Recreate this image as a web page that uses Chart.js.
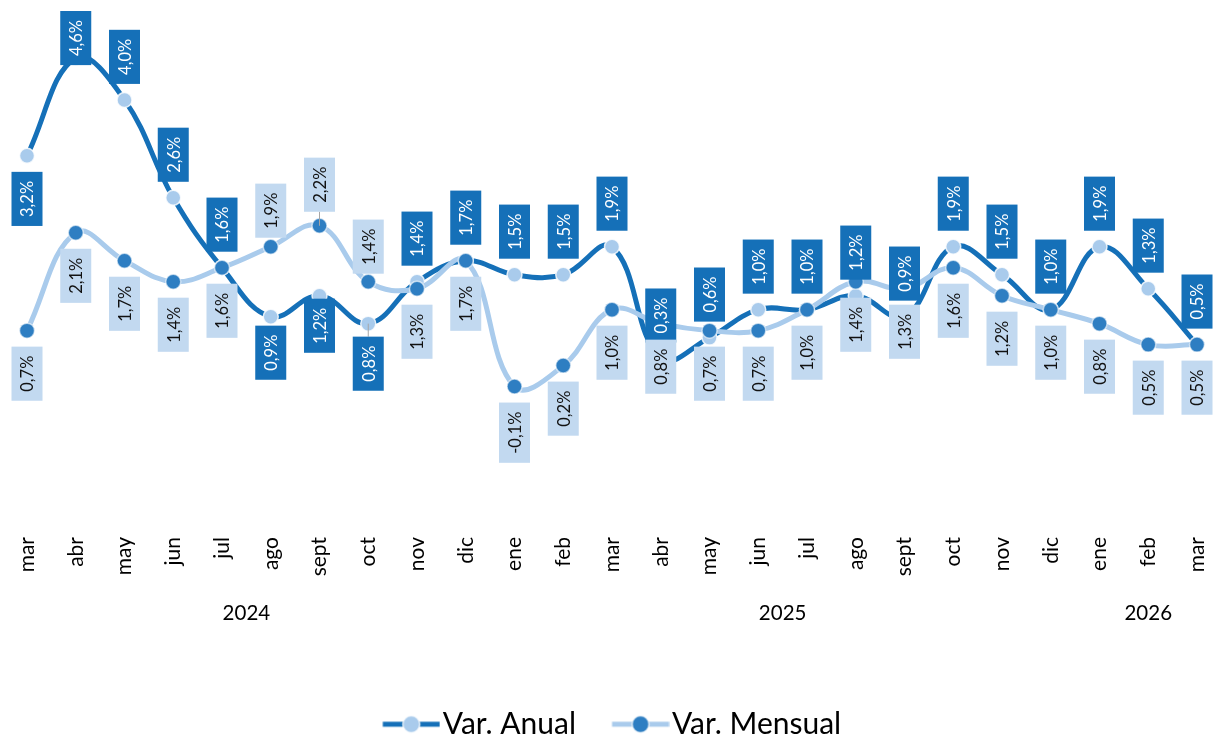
<!DOCTYPE html>
<html lang="es">
<head>
<meta charset="utf-8">
<title>Var. Anual y Var. Mensual</title>
<script src="https://cdn.jsdelivr.net/npm/chart.js@4.4.1/dist/chart.umd.min.js"></script>
<style>
  html, body { margin: 0; padding: 0; background: #fff; }
  #wrap { width: 1213px; height: 736px; position: relative; }
</style>
</head>
<body>
<div id="wrap"><canvas id="lineChart"></canvas></div>
<script>
// Categories: month label and the year it belongs to
const months = ['mar', 'abr', 'may', 'jun', 'jul', 'ago', 'sept', 'oct', 'nov', 'dic',
  'ene', 'feb', 'mar', 'abr', 'may', 'jun', 'jul', 'ago', 'sept', 'oct', 'nov', 'dic',
  'ene', 'feb', 'mar'];
const years = ['2024', '2024', '2024', '2024', '2024', '2024', '2024', '2024', '2024', '2024',
  '2025', '2025', '2025', '2025', '2025', '2025', '2025', '2025', '2025', '2025', '2025', '2025',
  '2026', '2026', '2026'];

// Series values (%)
const varAnual = [3.2, 4.6, 4.0, 2.6, 1.6, 0.9, 1.2, 0.8, 1.4, 1.7, 1.5, 1.5, 1.9,
  0.3, 0.6, 1.0, 1.0, 1.2, 0.9, 1.9, 1.5, 1.0, 1.9, 1.3, 0.5];
const varMensual = [0.7, 2.1, 1.7, 1.4, 1.6, 1.9, 2.2, 1.4, 1.3, 1.7, -0.1, 0.2, 1.0,
  0.8, 0.7, 0.7, 1.0, 1.4, 1.3, 1.6, 1.2, 1.0, 0.8, 0.5, 0.5];

// Label placement: gap in px between point and box, positive = above, negative = below
const anualLabelGap = [-16, 16, 16, 16, 16, -9, -3, -13, 16, 16, 16, 16, 16,
  16, 16, 16, 16, 16, 16, 16, 16, 16, 16, 16, 16];
const mensualLabelGap = [-16, -16, -16, -16, -16, 9, 14, 8, -16, -16, -16, -16, -16,
  -16, -16, -16, -16, -16, -16, -16, -16, -16, -16, -16, -16];
// labels that Excel shows with a leader line
const anualLeaders = [7];
const mensualLeaders = [6];

const darkBlue = '#1570B8';
const lightBlue = '#A9CBEC';
const markerDark = '#2E7EC2';
const boxLight = '#C2D9F0';
const fontFamily = 'Lato, "Open Sans", sans-serif';

// legend swatch: line with a marker in the middle, like Excel
const legendFont = 30;
const swatchLine = 57;
const legendBox = swatchLine + 3 - legendFont / 2;

function makeSwatch(lineColor, dotColor) {
  const half = Math.ceil(Math.max(legendBox / 2, swatchLine - legendBox / 2));
  const c = document.createElement('canvas');
  c.width = half * 2;
  c.height = 22;
  const g = c.getContext('2d');
  const x0 = half - legendBox / 2;
  g.strokeStyle = lineColor;
  g.lineWidth = 5;
  g.beginPath();
  g.moveTo(x0, 11);
  g.lineTo(x0 + swatchLine, 11);
  g.stroke();
  g.fillStyle = dotColor;
  g.strokeStyle = 'rgba(255,255,255,0.8)';
  g.lineWidth = 1.5;
  g.beginPath();
  g.arc(x0 + swatchLine / 2, 11, 8.5, 0, Math.PI * 2);
  g.fill();
  g.stroke();
  return c;
}
const swatches = [makeSwatch(darkBlue, lightBlue), makeSwatch(lightBlue, markerDark)];

function fmt(v) {
  return v.toFixed(1).replace('.', ',') + '%';
}

// Boxed, rotated value labels drawn on top of both lines
const boxLabels = {
  id: 'boxLabels',
  afterDatasetsDraw(chart) {
    const ctx = chart.ctx;
    const series = [
      { index: 0, values: varAnual, gaps: anualLabelGap, leaders: anualLeaders, fill: darkBlue, text: '#ffffff' },
      { index: 1, values: varMensual, gaps: mensualLabelGap, leaders: mensualLeaders, fill: boxLight, text: '#111111' }
    ];
    ctx.save();
    ctx.font = '16.5px ' + fontFamily;
    series.forEach((s) => {
      const meta = chart.getDatasetMeta(s.index);
      meta.data.forEach((pt, i) => {
        const label = fmt(s.values[i]);
        const w = 31;
        const h = ctx.measureText(label).width + 18;
        const gap = s.gaps[i];
        let top;
        if (gap > 0) {
          top = Math.max(pt.y - gap - h, 11);
        } else {
          top = pt.y - gap;
        }
        if (s.leaders.includes(i)) {
          ctx.strokeStyle = '#A6A6A6';
          ctx.lineWidth = 1;
          ctx.beginPath();
          ctx.moveTo(pt.x, pt.y);
          ctx.lineTo(pt.x, gap > 0 ? top + h : top);
          ctx.stroke();
        }
        ctx.fillStyle = s.fill;
        ctx.fillRect(pt.x - w / 2, top, w, h);
        ctx.save();
        ctx.translate(pt.x, top + h / 2);
        ctx.rotate(-Math.PI / 2);
        ctx.fillStyle = s.text;
        ctx.textAlign = 'center';
        ctx.textBaseline = 'middle';
        ctx.fillText(label, 0, 1);
        ctx.restore();
      });
    });
    ctx.restore();
  }
};

// Second level of the category axis: years centred under their months
const yearLabels = {
  id: 'yearLabels',
  afterDraw(chart) {
    const ctx = chart.ctx;
    const x = chart.scales.x;
    ctx.save();
    ctx.font = '20.5px ' + fontFamily;
    ctx.fillStyle = '#000';
    ctx.textAlign = 'center';
    ctx.textBaseline = 'alphabetic';
    let start = 0;
    for (let i = 1; i <= years.length; i++) {
      if (i === years.length || years[i] !== years[start]) {
        const cx = (x.getPixelForTick(start) + x.getPixelForTick(i - 1)) / 2;
        ctx.fillText(years[start], cx, chart.chartArea.bottom + 100.6);
        start = i;
      }
    }
    ctx.restore();
  }
};

const ctx = document.getElementById('lineChart').getContext('2d');
const lineChart = new Chart(ctx, {
  type: 'line',
  data: {
    labels: months,
    datasets: [
      {
        label: 'Var. Anual',
        data: varAnual,
        borderColor: darkBlue,
        borderWidth: 5,
        tension: 0.4,
        pointRadius: 7.5,
        pointBackgroundColor: lightBlue,
        pointBorderColor: 'rgba(255,255,255,0.8)',
        pointBorderWidth: 1.5,
        order: 1
      },
      {
        label: 'Var. Mensual',
        data: varMensual,
        borderColor: lightBlue,
        borderWidth: 5,
        tension: 0.4,
        pointRadius: 7.5,
        pointBackgroundColor: markerDark,
        pointBorderColor: 'rgba(255,255,255,0.6)',
        pointBorderWidth: 1.5,
        order: 0
      }
    ]
  },
  options: {
    responsive: true,
    maintainAspectRatio: false,
    animation: false,
    events: [],
    layout: {
      padding: { top: 30, left: 27, right: 16, bottom: 0 }
    },
    scales: {
      x: {
        offset: false,
        grid: { display: false, drawTicks: false },
        border: { display: false },
        ticks: {
          autoSkip: false,
          minRotation: 90,
          maxRotation: 90,
          padding: 17.6,
          color: '#000',
          font: { family: fontFamily, size: 21 }
        },
        afterFit(scale) {
          // fixed band for months + years, no extra side padding for rotated labels
          scale.height = 153.8;
          scale.paddingLeft = 0;
          scale.paddingRight = 0;
        }
      },
      y: {
        display: false,
        min: -2,
        max: 5
      }
    },
    plugins: {
      tooltip: { enabled: false },
      legend: {
        position: 'bottom',
        maxHeight: 62.8,
        labels: {
          usePointStyle: true,
          pointStyleWidth: legendBox,
          padding: 36,
          color: '#000',
          font: { family: fontFamily, size: legendFont },
          generateLabels(chart) {
            const items = Chart.defaults.plugins.legend.labels.generateLabels(chart);
            items.sort((a, b) => a.datasetIndex - b.datasetIndex);
            items.forEach((item) => {
              item.pointStyle = swatches[item.datasetIndex];
            });
            return items;
          }
        }
      }
    }
  },
  plugins: [boxLabels, yearLabels]
});
</script>
</body>
</html>
